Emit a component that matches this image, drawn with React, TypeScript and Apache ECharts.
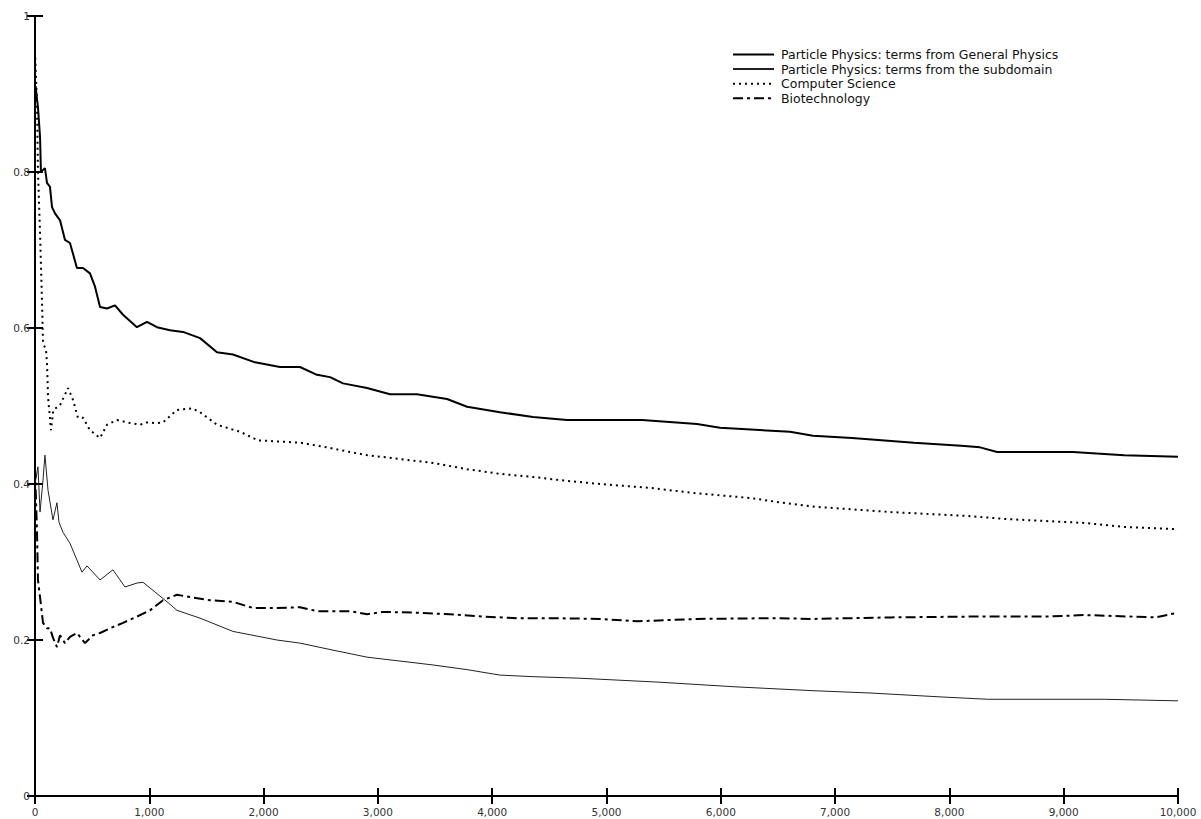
import React, { useEffect, useRef } from "react";
import * as echarts from "echarts";

const seriesNames = [
  "Particle Physics: terms from General Physics",
  "Particle Physics: terms from the subdomain",
  "Computer Science",
  "Biotechnology",
];

const generalX = [5, 26, 44, 52, 87, 105, 131, 149, 175, 219, 262, 306, 367, 420, 481, 525, 569, 630, 700, 770, 892, 980, 1067, 1181, 1295, 1444, 1592, 1732, 1925, 2143, 2318, 2467, 2581, 2695, 2905, 3106, 3342, 3605, 3780, 4068, 4357, 4654, 5311, 5792, 5993, 6605, 6807, 7148, 7690, 8102, 8268, 8417, 9081, 9528, 10000];
const generalY = [0.91, 0.883, 0.845, 0.8, 0.805, 0.786, 0.781, 0.755, 0.747, 0.738, 0.713, 0.709, 0.677, 0.677, 0.67, 0.653, 0.627, 0.625, 0.629, 0.617, 0.601, 0.608, 0.601, 0.597, 0.595, 0.587, 0.569, 0.566, 0.556, 0.55, 0.55, 0.54, 0.537, 0.529, 0.523, 0.515, 0.515, 0.509, 0.499, 0.492, 0.486, 0.482, 0.482, 0.477, 0.472, 0.467, 0.462, 0.459, 0.453, 0.449, 0.447, 0.441, 0.441, 0.437, 0.435];

const subX = [0, 26, 44, 70, 87, 114, 157, 192, 210, 245, 306, 411, 455, 569, 682, 787, 892, 945, 1155, 1242, 1444, 1732, 2117, 2318, 2607, 2905, 3193, 3482, 3780, 4068, 4357, 4768, 5450, 6124, 6807, 7314, 7928, 8339, 9354, 10000];
const subY = [0.4, 0.422, 0.364, 0.405, 0.437, 0.392, 0.354, 0.376, 0.351, 0.338, 0.324, 0.287, 0.295, 0.277, 0.29, 0.268, 0.273, 0.274, 0.249, 0.238, 0.228, 0.211, 0.2, 0.196, 0.187, 0.178, 0.173, 0.168, 0.162, 0.155, 0.153, 0.151, 0.146, 0.14, 0.135, 0.132, 0.127, 0.124, 0.124, 0.122];

const csX = [0, 17, 26, 44, 61, 70, 96, 105, 114, 140, 160, 219, 289, 332, 376, 420, 481, 569, 630, 717, 805, 919, 980, 1067, 1120, 1242, 1374, 1444, 1592, 1794, 1950, 2318, 2555, 2756, 2905, 3193, 3482, 3780, 4068, 4357, 4654, 4943, 5381, 5792, 6264, 6535, 6807, 7489, 8163, 8504, 9186, 9528, 10000];
const csY = [0.954, 0.892, 0.8, 0.722, 0.636, 0.581, 0.572, 0.555, 0.512, 0.469, 0.495, 0.501, 0.523, 0.508, 0.485, 0.485, 0.469, 0.459, 0.476, 0.482, 0.479, 0.476, 0.479, 0.478, 0.479, 0.495, 0.497, 0.492, 0.476, 0.467, 0.456, 0.453, 0.447, 0.441, 0.437, 0.432, 0.427, 0.419, 0.413, 0.409, 0.404, 0.4, 0.395, 0.388, 0.382, 0.376, 0.371, 0.364, 0.359, 0.355, 0.35, 0.345, 0.342];

const bioX = [0, 17, 26, 44, 70, 105, 131, 157, 192, 219, 262, 306, 367, 437, 507, 569, 656, 770, 892, 1006, 1120, 1242, 1356, 1531, 1732, 1907, 2117, 2318, 2467, 2756, 2905, 3045, 3342, 3631, 3920, 4217, 4506, 4943, 5276, 5792, 6466, 6807, 7489, 8163, 8845, 9186, 9800, 10000];
const bioY = [0.42, 0.341, 0.277, 0.255, 0.222, 0.215, 0.215, 0.203, 0.191, 0.206, 0.196, 0.204, 0.209, 0.196, 0.206, 0.209, 0.215, 0.222, 0.23, 0.238, 0.251, 0.258, 0.255, 0.251, 0.249, 0.241, 0.241, 0.242, 0.237, 0.237, 0.233, 0.236, 0.235, 0.233, 0.23, 0.228, 0.228, 0.227, 0.224, 0.227, 0.228, 0.227, 0.229, 0.23, 0.23, 0.232, 0.229, 0.235];

const zip = (xs: number[], ys: number[]) => xs.map((x, i) => [x, ys[i]]);

const fmtThousands = (v: number) => String(v).replace(/\B(?=(\d{3})+(?!\d))/g, ",");

export default function App() {
  const ref = useRef<HTMLDivElement>(null);
  useEffect(() => {
    if (!ref.current) return;
    const chart = echarts.init(ref.current, undefined, { renderer: "svg" });
    const axisCommon = {
      axisLine: { show: true, lineStyle: { color: "#000", width: 2 } },
      axisTick: { show: true, inside: true, length: 8, lineStyle: { color: "#000", width: 2 } },
      splitLine: { show: false },
    };
    const labelStyle = { color: "#333", fontSize: 10.5, fontFamily: "DejaVu Sans, sans-serif" };
    chart.setOption({
      animation: false,
      backgroundColor: "#fff",
      grid: { left: 35, right: 23, top: 16, bottom: 23, containLabel: false },
      legend: {
        orient: "vertical",
        left: 732,
        top: 48,
        padding: 0,
        itemGap: 1.6,
        itemWidth: 41,
        itemHeight: 11,
        data: seriesNames,
        itemStyle: { opacity: 0, borderWidth: 0 },
        textStyle: { fontSize: 12.5, color: "#111", fontFamily: "DejaVu Sans, sans-serif", padding: [0, 0, 0, 2] },
      },
      xAxis: [
        {
          type: "value", min: 0, max: 10000, interval: 1000, position: "bottom",
          ...axisCommon,
          axisLabel: { ...labelStyle, margin: 10, formatter: (v: number) => fmtThousands(v) },
        },
        {
          type: "value", min: 0, max: 10000, interval: 1000, position: "top",
          ...axisCommon,
          axisLabel: { show: false },
        },
      ],
      yAxis: [
        {
          type: "value", min: 0, max: 1, interval: 0.2, position: "left",
          ...axisCommon,
          axisLabel: { ...labelStyle, margin: 5 },
        },
        {
          type: "value", min: 0, max: 1, interval: 0.2, position: "right",
          ...axisCommon,
          axisLabel: { show: false },
        },
      ],
      series: [
        {
          name: seriesNames[0], type: "line", data: zip(generalX, generalY), showSymbol: false, symbol: "none",
          lineStyle: { color: "#000", width: 2, type: "solid" }, itemStyle: { color: "#000" },
        },
        {
          name: seriesNames[1], type: "line", data: zip(subX, subY), showSymbol: false, symbol: "none",
          lineStyle: { color: "#222", width: 1, type: "solid" }, itemStyle: { color: "#222" },
        },
        {
          name: seriesNames[2], type: "line", data: zip(csX, csY), showSymbol: false, symbol: "none",
          lineStyle: { color: "#000", width: 2, type: [2, 4] }, itemStyle: { color: "#000" },
        },
        {
          name: seriesNames[3], type: "line", data: zip(bioX, bioY), showSymbol: false, symbol: "none",
          lineStyle: { color: "#000", width: 2, type: [10, 4, 3, 4] }, itemStyle: { color: "#000" },
        },
      ],
    });
    return () => chart.dispose();
  }, []);
  return <div ref={ref} style={{ position: "fixed", left: 0, top: 0, width: 1201, height: 819 }} />;
}
